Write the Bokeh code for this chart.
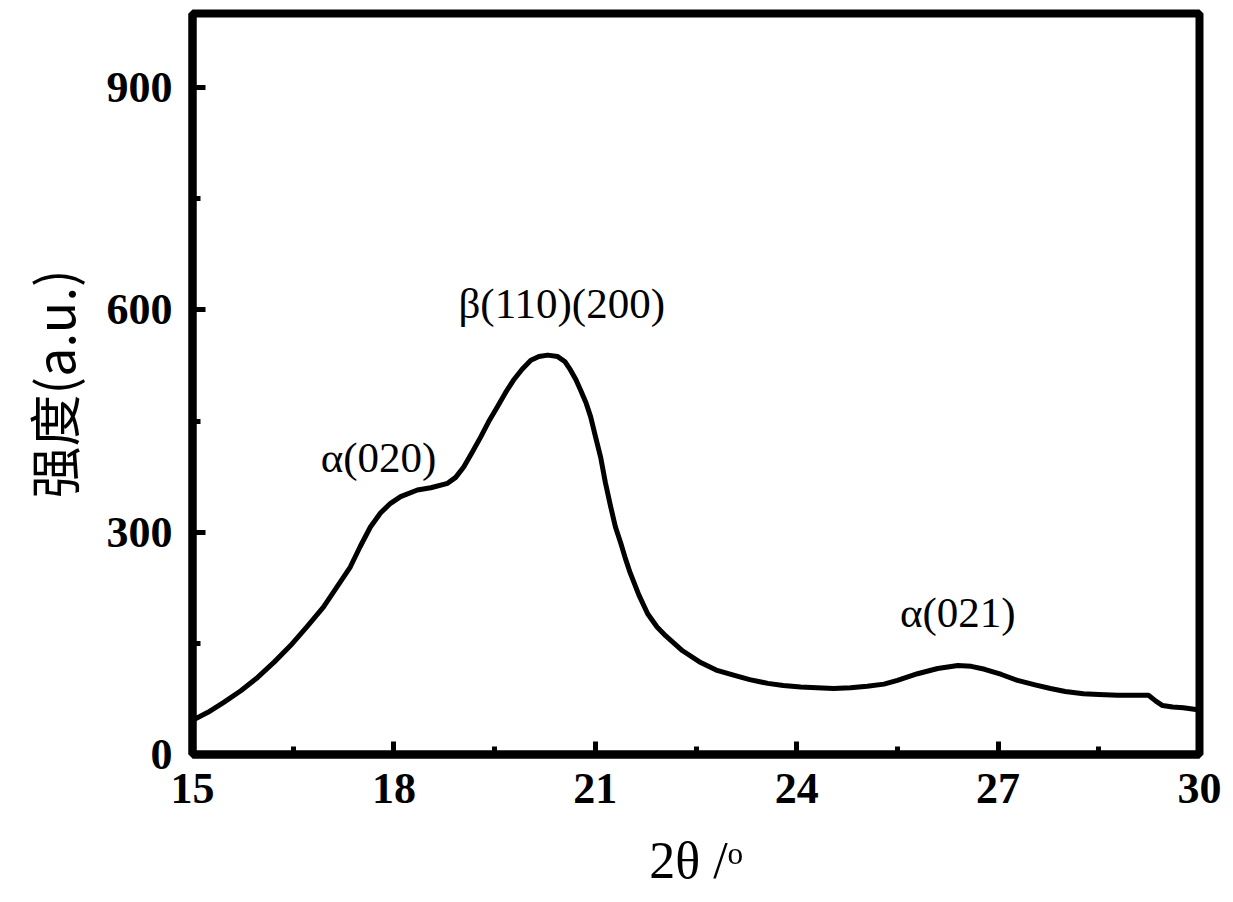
from bokeh.plotting import figure
from bokeh.models import Range1d, SingleIntervalTicker, Label
from bokeh.embed import file_html
from bokeh.resources import INLINE

two_theta = [15.0, 15.23, 15.46, 15.72, 15.97, 16.22, 16.46, 16.7, 16.95, 17.15, 17.35,
             17.5, 17.65, 17.8, 17.95, 18.1, 18.35, 18.55, 18.8,
             18.92, 19.04, 19.16, 19.29, 19.41, 19.54, 19.66, 19.78, 19.91, 20.04,
             20.16, 20.29, 20.44, 20.55, 20.63, 20.71, 20.78, 20.86, 20.93, 21.0,
             21.08, 21.15, 21.23, 21.3, 21.38, 21.45, 21.52, 21.65, 21.78, 21.92,
             22.05, 22.3, 22.57, 22.8, 23.06, 23.3, 23.57, 23.8, 24.06,
             24.3, 24.55, 24.8, 25.05, 25.3, 25.5, 25.8, 26.1, 26.4, 26.6, 26.8,
             27.05, 27.29, 27.55, 27.78, 28.0, 28.27, 28.5, 28.78, 29.0,
             29.24, 29.35, 29.45, 29.6, 29.76, 30.0]
intensity = [46, 57, 70, 86, 104, 125, 147, 172, 199, 226, 253,
             281, 307, 326, 339, 348, 357, 360, 366,
             374, 388, 407, 428, 449, 469, 488, 505, 520, 532,
             537, 539, 537, 530, 519, 506, 492, 475, 456, 430,
             401, 367, 334, 307, 285, 264, 245, 215, 190, 172,
             160, 140, 124, 114, 107, 101, 96, 93, 91,
             90, 89, 90, 92, 95, 100, 109, 116, 120, 119, 115,
             108, 100, 94, 89, 85, 82, 81, 80, 80,
             80, 72, 66, 64, 63, 60]

peak_labels = ["α(020)", "β(110)(200)", "α(021)"]
peak_x = [17.77, 20.5, 26.4]
peak_y = [401, 608, 192]

p = figure(width=1233, height=902, output_backend="svg", toolbar_location=None,
           x_range=Range1d(15, 30), y_range=Range1d(0, 1000),
           min_border_left=192, min_border_right=34, min_border_top=13,
           min_border_bottom=148)
p.background_fill_color = "white"
p.border_fill_color = "white"
p.grid.visible = False
p.outline_line_color = "black"
p.outline_line_width = 8

p.line(two_theta, intensity, line_color="black", line_width=5, line_join="round")

for ax in (p.xaxis[0], p.yaxis[0]):
    ax.axis_line_width = 8
    ax.axis_line_color = "black"
    ax.major_tick_in = 13
    ax.major_tick_out = 0
    ax.minor_tick_in = 8
    ax.minor_tick_out = 0
    ax.major_tick_line_width = 5
    ax.minor_tick_line_width = 5
    ax.major_tick_line_color = "black"
    ax.minor_tick_line_color = "black"
    ax.major_label_text_font = "Liberation Serif"
    ax.major_label_text_font_style = "bold"
    ax.major_label_text_font_size = "44px"
    ax.major_label_text_color = "black"
    ax.axis_label_text_color = "black"
    ax.axis_label_text_font_style = "normal"

p.xaxis[0].ticker = SingleIntervalTicker(interval=3, num_minor_ticks=2)
p.yaxis[0].ticker = SingleIntervalTicker(interval=300, num_minor_ticks=2)
p.xaxis[0].major_label_standoff = 19
p.yaxis[0].major_label_standoff = 20

p.xaxis[0].axis_label = "2θ /ᵒ"
p.xaxis[0].axis_label_text_font = "Liberation Serif"
p.xaxis[0].axis_label_text_font_size = "52px"
p.xaxis[0].axis_label_standoff = 26

p.yaxis[0].axis_label = "强度(a.u.)"
p.yaxis[0].axis_label_text_font = "Noto Sans CJK SC"
p.yaxis[0].axis_label_text_font_size = "52px"
p.yaxis[0].axis_label_standoff = 14

for t, xx, yy in zip(peak_labels, peak_x, peak_y):
    p.add_layout(Label(x=xx, y=yy, text=t, text_font="Liberation Serif",
                       text_font_size="43px", text_align="center",
                       text_baseline="middle", text_color="black"))

open("out.html", "w").write(file_html(p, INLINE))
